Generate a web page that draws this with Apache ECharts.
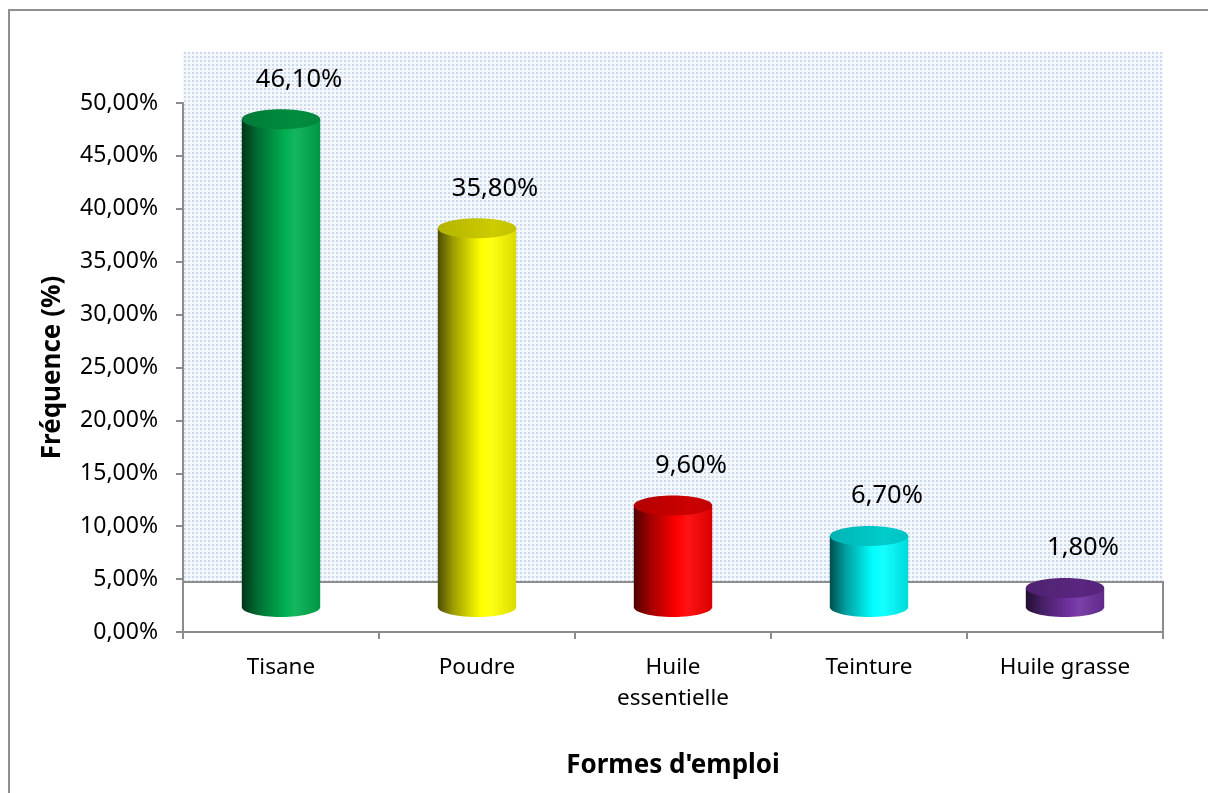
<!DOCTYPE html>
<html>
<head>
<meta charset="utf-8">
<script src="https://cdn.jsdelivr.net/npm/echarts@6/dist/echarts.min.js"></script>
<style>
html,body{margin:0;padding:0;background:#fff;}
#chart{width:1208px;height:793px;}
</style>
</head>
<body>
<div id="chart"></div>
<script>
const categories = ['Tisane', 'Poudre', 'Huile\nessentielle', 'Teinture', 'Huile grasse'];
const values = [46.1, 35.8, 9.6, 6.7, 1.8];
const barColors = ['#00b050', '#ffff00', '#ff0000', '#00ffff', '#7030a0'];
const yMin = 0, yMax = 50, yStep = 5;

function hexToRgb(h){h=h.replace('#','');return [parseInt(h.substr(0,2),16),parseInt(h.substr(2,2),16),parseInt(h.substr(4,2),16)];}
function shade(h,f){const c=hexToRgb(h);return 'rgb('+c.map(v=>Math.round(v*f)).join(',')+')';}
function lighten(h,f){const c=hexToRgb(h);return 'rgb('+c.map(v=>Math.round(v+(255-v)*f)).join(',')+')';}
function fmtPct(v){return v.toFixed(2).replace('.',',')+'%';}

// dotted pattern for the back wall
const tile = document.createElement('canvas');
tile.width = 4; tile.height = 4;
const tctx = tile.getContext('2d');
tctx.fillStyle = '#f4f7fc'; tctx.fillRect(0,0,4,4);
tctx.fillStyle = '#cbd9ef'; tctx.fillRect(0,0,2,2);

const chart = echarts.init(document.getElementById('chart'));
const DEPTH = 25, RY = 10, LABEL_SHIFT_X = 18;

const option = {
  backgroundColor: '#ffffff',
  animation: false,
  grid: {left: 183, right: 45, top: 103, bottom: 161},
  graphic: [
    {type:'rect', z:-10, shape:{x:9, y:10, width:1220, height:800}, style:{fill:'#fff', stroke:'#8f8f8f', lineWidth:2}},
    {type:'rect', z:-9, shape:{x:183, y:52, width:980, height:530}, style:{fill:{image: tile, repeat:'repeat'}}},
    {type:'polyline', z:-8, shape:{points:[[183,582],[1163,582],[1163,632]]}, style:{stroke:'#8c8c8c', lineWidth:2, fill:null}}
  ],
  xAxis: {
    type: 'category',
    data: categories,
    boundaryGap: true,
    axisLine: {lineStyle: {color:'#8c8c8c', width:2}},
    axisTick: {show:true, length:7, alignWithLabel:false, lineStyle:{color:'#8c8c8c', width:2}},
    axisLabel: {color:'#000', fontFamily:'Noto Sans', fontSize:22.5, lineHeight:31, margin:20},
    name: "Formes d'emploi",
    nameLocation: 'middle',
    nameGap: 121,
    nameTextStyle: {color:'#000', fontFamily:'Noto Sans', fontWeight:'bold', fontSize:26}
  },
  yAxis: {
    type: 'value',
    min: yMin, max: yMax, interval: yStep,
    axisLine: {show:true, lineStyle:{color:'#8c8c8c', width:2}},
    axisTick: {show:true, length:7, lineStyle:{color:'#8c8c8c', width:2}},
    splitLine: {show:false},
    axisLabel: {color:'#000', fontFamily:'Noto Sans', fontSize:23, margin:25, formatter: fmtPct},
    name: 'Fréquence (%)',
    nameLocation: 'middle',
    nameRotate: 90,
    nameGap: 117,
    nameTextStyle: {color:'#000', fontFamily:'Noto Sans', fontWeight:'bold', fontSize:26}
  },
  series: [{
    type: 'custom',
    data: values.map((v,i)=>[i, v]),
    encode: {x:0, y:1},
    renderItem: function(params, api){
      const i = api.value(0);
      const top = api.coord([i, api.value(1)]);
      const base = api.coord([i, 0]);
      const w = api.size([1,0])[0] * 0.4;
      const cx = top[0];
      const topY = top[1] - DEPTH;
      const botY = base[1] - DEPTH;
      const c = barColors[params.dataIndex];
      const bodyFill = new echarts.graphic.LinearGradient(0,0,1,0,[
        {offset:0, color: shade(c,0.3)},
        {offset:0.2, color: shade(c,0.62)},
        {offset:0.55, color: c},
        {offset:0.68, color: lighten(c,0.08)},
        {offset:1, color: shade(c,0.86)}
      ]);
      const topFill = new echarts.graphic.LinearGradient(0,0,1,0,[
        {offset:0, color: shade(c,0.7)},
        {offset:0.7, color: shade(c,0.8)},
        {offset:1, color: shade(c,0.76)}
      ]);
      return {
        type:'group',
        children:[
          {type:'ellipse', shape:{cx:cx, cy:botY, rx:w/2, ry:RY}, style:{fill:bodyFill}},
          {type:'rect', shape:{x:cx-w/2, y:topY, width:w, height:botY-topY}, style:{fill:bodyFill}},
          {type:'ellipse', shape:{cx:cx, cy:topY, rx:w/2, ry:RY}, style:{fill:topFill}},
          {type:'text', style:{text: fmtPct(api.value(1)), x:cx+LABEL_SHIFT_X, y:topY-RY-30, align:'center', verticalAlign:'middle',
            font:'25.5px "Noto Sans"', fill:'#000'}}
        ]
      };
    }
  }]
};
chart.setOption(option);
</script>
</body>
</html>
